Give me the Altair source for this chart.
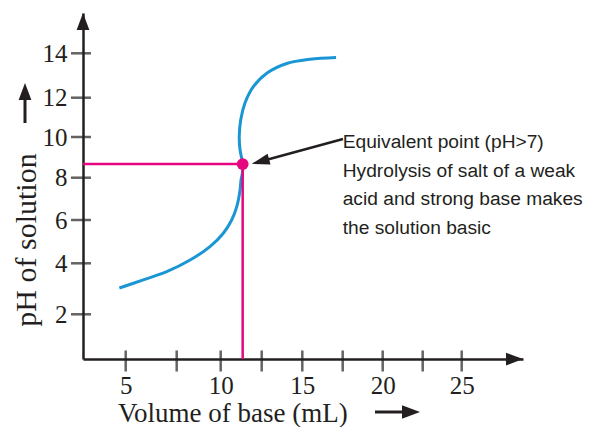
import altair as alt
import pandas as pd

# ---------------- data ----------------
curve_volume = [4.69, 5.86, 7.01, 8.26, 9.39, 10.16, 10.67, 10.98, 11.18, 11.24,
                11.32, 11.34, 11.18, 11.13, 11.22, 11.48, 11.99, 12.81, 14.04,
                15.48, 17.09]
curve_ph = [3.03, 3.35, 3.67, 4.15, 4.77, 5.39, 6.0, 6.63, 7.42, 7.89,
            8.22, 8.67, 9.37, 10.01, 10.87, 11.73, 12.5, 13.1, 13.54,
            13.73, 13.81]

eq_volume = [11.34]
eq_ph = [8.67]

x_tick_values = [5, 7.5, 10, 12.5, 15, 17.5, 20, 22.5, 25]
x_label_values = [5, 10, 15, 20, 25]
y_tick_values = [2, 4, 6, 8, 10, 12, 14]

annotation_lines = ["Equivalent point (pH>7)",
                    "Hydrolysis of salt of a weak",
                    "acid and strong base makes",
                    "the solution basic"]
annotation_anchor = [17.5, 9.46]          # volume, pH of first line baseline
arrow_start = [17.52, 9.9]
arrow_end = [12.42, 8.8]
arrow_tip = [11.89, 8.68]

x_title = "Volume of base (mL)"
y_title = "pH of solution"

# ---------------- scales (hand-drawn, slightly uneven axes) ----------------
X_DOMAIN = [2.91, 5, 7.5, 10, 12.5, 15, 17.5, 20, 22.5, 25, 28.93]
X_RANGE = [0, 42.7, 93.7, 137.7, 178.7, 219.3, 259.7, 299.7, 339.7, 378.7, 440]
Y_DOMAIN = [0.24, 2, 4, 6, 8, 10, 12, 14, 15.78]
Y_RANGE = [346, 301.3, 250.3, 207, 164.7, 124, 84.7, 40.3, 0]

INK = "#231f20"
BLUE = "#1b96d4"
PINK = "#e6067f"
SERIF = "Liberation Serif"
SANS = "Liberation Sans"
HEAD = "M0,0L0.75,2L-0.75,2Z"   # arrow head, tip at origin, pointing up

xs = alt.Scale(domain=X_DOMAIN, range=X_RANGE, nice=False, zero=False)
ys = alt.Scale(domain=Y_DOMAIN, range=Y_RANGE, nice=False, zero=False)

x_axis = alt.Axis(values=x_label_values, ticks=False, tickSize=0, grid=False,
                  domainColor=INK, domainWidth=2.5, labelFont=SERIF,
                  labelFontSize=25, labelColor=INK, labelPadding=34,
                  labelBaseline="alphabetic", labelFlush=False,
                  labelOverlap=False, format="d", title=None)
y_axis = alt.Axis(values=y_tick_values, ticks=False, tickSize=0, grid=False,
                  domainColor=INK, domainWidth=2.5, labelFont=SERIF,
                  labelFontSize=25, labelColor=INK, labelPadding=16,
                  labelBaseline="middle", labelFlush=False,
                  labelOverlap=False, format="d", title=None)


def X(field):
    return alt.X(field, type="quantitative", scale=xs, axis=x_axis)


def Y(field):
    return alt.Y(field, type="quantitative", scale=ys, axis=y_axis)


curve_df = pd.DataFrame({"v": curve_volume, "ph": curve_ph,
                         "i": list(range(len(curve_volume)))})
eq_df = pd.DataFrame({"v": eq_volume, "ph": eq_ph,
                      "v0": [X_DOMAIN[0]], "ph0": [Y_DOMAIN[0]]})

curve = alt.Chart(curve_df).mark_line(
    color=BLUE, strokeWidth=3, interpolate="catmull-rom"
).encode(x=X("v"), y=Y("ph"), order="i:Q")

x_ticks = alt.Chart(pd.DataFrame({"v": x_tick_values})).mark_tick(
    orient="vertical", size=21, thickness=2.5, color=INK
).encode(x=X("v"), y=alt.value(348))

y_ticks = alt.Chart(pd.DataFrame({"ph": y_tick_values})).mark_tick(
    orient="horizontal", size=20, thickness=2.5, color=INK
).encode(y=Y("ph"), x=alt.value(-2))

pink_h = alt.Chart(eq_df).mark_rule(color=PINK, strokeWidth=2.5).encode(
    x=X("v0"), x2="v", y=Y("ph"))
pink_v = alt.Chart(eq_df).mark_rule(color=PINK, strokeWidth=2.5).encode(
    x=X("v"), y=Y("ph0"), y2="ph")
dot = alt.Chart(eq_df).mark_circle(color=PINK, opacity=1, size=140).encode(
    x=X("v"), y=Y("ph"))

arrow_df = pd.DataFrame({"x1": [arrow_start[0]], "y1": [arrow_start[1]],
                         "x2": [arrow_end[0]], "y2": [arrow_end[1]],
                         "tx": [arrow_tip[0]], "ty": [arrow_tip[1]]})
arrow_line = alt.Chart(arrow_df).mark_rule(color=INK, strokeWidth=2.5).encode(
    x=X("x1"), y=Y("y1"), x2="x2", y2="y2")
arrow_head = alt.Chart(arrow_df).mark_point(
    shape="M0,0L0.62,2L-0.62,2Z", filled=True, opacity=1, color=INK,
    size=324, angle=254.6, strokeWidth=0
).encode(x=X("tx"), y=Y("ty"))

annot = alt.Chart(pd.DataFrame({"v": [annotation_anchor[0]],
                                "ph": [annotation_anchor[1]]})).mark_text(
    text=annotation_lines, font=SANS, fontSize=19.2, lineHeight=28.6,
    color=INK, align="left", baseline="alphabetic"
).encode(x=X("v"), y=Y("ph"))

ends_df = pd.DataFrame({"x": [X_DOMAIN[0], X_DOMAIN[-1]],
                        "y": [Y_DOMAIN[-1], Y_DOMAIN[0]],
                        "a": [0, 90]})
axis_heads = alt.Chart(ends_df).mark_point(
    shape=HEAD, filled=True, opacity=1, color=INK, size=289, strokeWidth=0
).encode(x=X("x"), y=Y("y"), angle=alt.Angle("a:Q", scale=None))

xt = alt.Chart().mark_text(text=x_title, font=SERIF, fontSize=27, color=INK,
                           align="left", baseline="alphabetic").encode(
    x=alt.value(35), y=alt.value(408.5))
yt = alt.Chart().mark_text(text=y_title, font=SERIF, fontSize=30, color=INK,
                           align="center", baseline="alphabetic",
                           angle=270).encode(
    x=alt.value(-47), y=alt.value(227))

yt_shaft = alt.Chart().mark_rule(color=INK, strokeWidth=3).encode(
    x=alt.value(-58), y=alt.value(84), y2=alt.value(110))
yt_head = alt.Chart().mark_point(shape=HEAD, filled=True, opacity=1, color=INK,
                                 size=289, strokeWidth=0).encode(
    x=alt.value(-58), y=alt.value(70))
xt_shaft = alt.Chart().mark_rule(color=INK, strokeWidth=3).encode(
    x=alt.value(292), x2=alt.value(322), y=alt.value(399))
xt_head = alt.Chart().mark_point(shape=HEAD, filled=True, opacity=1, color=INK,
                                 size=324, angle=90, strokeWidth=0).encode(
    x=alt.value(337), y=alt.value(399))

chart = alt.layer(
    curve, x_ticks, y_ticks, pink_h, pink_v, dot, arrow_line, arrow_head,
    annot, axis_heads, xt, yt, yt_shaft, yt_head, xt_shaft, xt_head
).properties(
    width=440, height=346,
    autosize=alt.AutoSizeParams(type="none"),
    padding={"left": 75, "top": 5, "right": 65, "bottom": 68},
).configure_view(stroke=None)

chart.save("out.html", embed_options={"renderer": "svg", "actions": False})
